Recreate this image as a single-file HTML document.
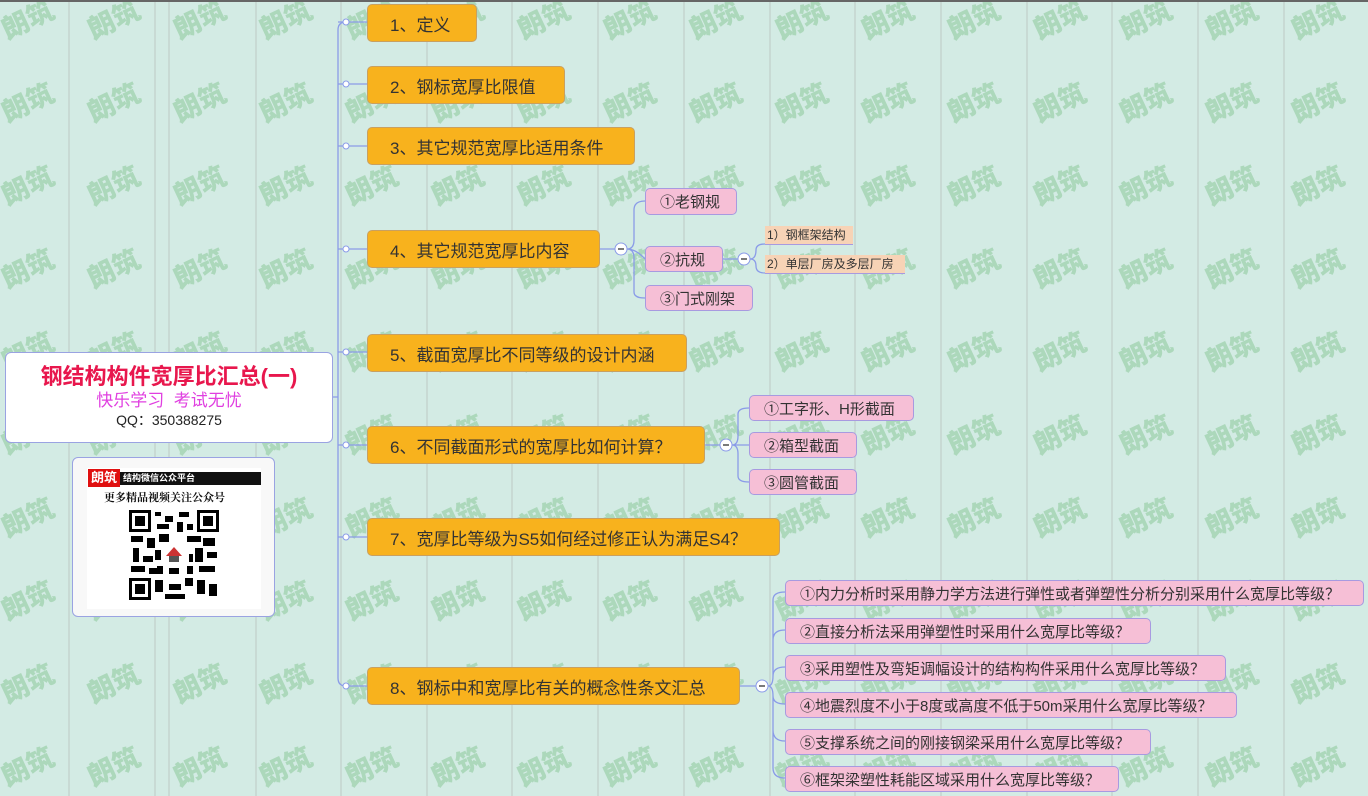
<!DOCTYPE html>
<html style="width:1368px;height:796px;overflow:hidden"><head><meta charset="utf-8"><style>
*{margin:0;padding:0;box-sizing:border-box}
body{width:1368px;height:796px;overflow:hidden;background:#d3ebe4;font-family:"Liberation Sans","Noto Sans CJK SC",sans-serif;position:relative}
.n{position:absolute;border-radius:5px;display:flex;align-items:center;white-space:nowrap}
.m{background:#f8b21d;border:1px solid #c9a060;font-size:17px;color:#333;padding-left:22px}
.p{background:#f6bfd6;border:1px solid #a89ae0;font-size:15px;color:#333;padding-left:14px}
.s{position:absolute;background:#f7d3b6;font-size:12px;color:#333;border-bottom:1px solid #a89ae0;padding-left:2px;white-space:nowrap;line-height:18px}
svg{position:absolute;left:0;top:0;display:block}
</style></head><body>
<svg width="1368" height="796" id="bg">
<g stroke="#bcc8c4" stroke-width="1">
<line x1="69" y1="0" x2="69" y2="796"/><line x1="155" y1="0" x2="155" y2="796"/><line x1="169" y1="0" x2="169" y2="796"/><line x1="256" y1="0" x2="256" y2="796"/><line x1="341" y1="0" x2="341" y2="796"/><line x1="427" y1="0" x2="427" y2="796"/><line x1="512" y1="0" x2="512" y2="796"/><line x1="598" y1="0" x2="598" y2="796"/><line x1="684" y1="0" x2="684" y2="796"/><line x1="770" y1="0" x2="770" y2="796"/><line x1="855" y1="0" x2="855" y2="796"/><line x1="941" y1="0" x2="941" y2="796"/><line x1="1027" y1="0" x2="1027" y2="796"/><line x1="1112" y1="0" x2="1112" y2="796"/><line x1="1198" y1="0" x2="1198" y2="796"/><line x1="1284" y1="0" x2="1284" y2="796"/>
</g>
<g id="wm" font-family="Noto Sans CJK SC" font-weight="900" font-size="27" fill="#acd8bb" text-anchor="middle"></g>
<rect width="1368" height="2" fill="#666"/>
<g stroke="#8a9be8" stroke-width="1.3" fill="none">
<path d="M332 397 H338 M338 30 Q338 22 346 22 M338 30 V678 Q338 686 346 686"/>
<path d="M338 84 H367 M338 146 H367 M338 249 H367 M338 352 H367 M338 445 H367 M338 537 H367 M338 22 H367 M346 686 H367"/>
<path d="M599 249 H615 M627 249 Q634 249 634 240 V210 Q634 201 645 201 M627 249 Q634 249 634 258 V292 Q634 298 645 298 M627 249 Q636 249 645 259"/>
<path d="M722 259 H738 M750 259 Q756 259 756 250 Q756 244 765 244 M750 259 Q756 259 756 266 Q756 273 765 273 M765 244 H853 M765 273 H905"/>
<path d="M704 445 H720 M732 445 Q738 445 738 436 V414 Q738 408 749 408 M732 445 H749 M732 445 Q738 445 738 454 V476 Q738 482 749 482"/>
<path d="M739 686 H756 M768 686 Q773 686 773 676 V600 Q773 592 785 592 M773 676 V640 Q773 630 785 630 M773 676 Q773 667 785 667 M768 686 Q773 686 773 696 Q773 704 785 704 M773 696 V730 Q773 741 785 741 M773 730 V768 Q773 778 785 778"/>
</g>
<g fill="#fff" stroke="#8a9be8" stroke-width="1">
<circle cx="346" cy="22" r="3"/><circle cx="346" cy="84" r="3"/><circle cx="346" cy="146" r="3"/><circle cx="346" cy="249" r="3"/><circle cx="346" cy="352" r="3"/><circle cx="346" cy="445" r="3"/><circle cx="346" cy="537" r="3"/><circle cx="346" cy="686" r="3"/>
<circle cx="621" cy="249" r="6"/><circle cx="744" cy="259" r="6"/><circle cx="726" cy="445" r="6"/><circle cx="762" cy="686" r="6"/>
</g>
<g stroke="#333" stroke-width="1.3"><line x1="618" y1="249" x2="624" y2="249"/><line x1="741" y1="259" x2="747" y2="259"/><line x1="723" y1="445" x2="729" y2="445"/><line x1="759" y1="686" x2="765" y2="686"/></g>
</svg>
<script>
(function(){var g=document.getElementById('wm'),ns='http://www.w3.org/2000/svg';
for(var r=0;r<10;r++)for(var c=0;c<16;c++){var x=28+86*c,y=20+83*r;var t=document.createElementNS(ns,'text');t.setAttribute('x',x);t.setAttribute('y',y+9);t.setAttribute('transform','rotate(-25 '+x+' '+y+')');t.textContent='朗筑';g.appendChild(t);}})();
</script>

<div class="n m" style="left:367px;top:4px;width:110px;height:38px">1、定义</div>
<div class="n m" style="left:367px;top:66px;width:198px;height:38px">2、钢标宽厚比限值</div>
<div class="n m" style="left:367px;top:127px;width:268px;height:38px">3、其它规范宽厚比适用条件</div>
<div class="n m" style="left:367px;top:230px;width:233px;height:38px">4、其它规范宽厚比内容</div>
<div class="n m" style="left:367px;top:334px;width:320px;height:38px">5、截面宽厚比不同等级的设计内涵</div>
<div class="n m" style="left:367px;top:426px;width:338px;height:38px">6、不同截面形式的宽厚比如何计算？</div>
<div class="n m" style="left:367px;top:518px;width:413px;height:38px">7、宽厚比等级为S5如何经过修正认为满足S4？</div>
<div class="n m" style="left:367px;top:667px;width:373px;height:38px">8、钢标中和宽厚比有关的概念性条文汇总</div>

<div class="n p" style="left:645px;top:188px;width:92px;height:27px">①老钢规</div>
<div class="n p" style="left:645px;top:246px;width:78px;height:26px">②抗规</div>
<div class="n p" style="left:645px;top:285px;width:108px;height:26px">③门式刚架</div>
<div class="s" style="left:765px;top:226px;width:88px">1）钢框架结构</div>
<div class="s" style="left:765px;top:255px;width:140px">2）单层厂房及多层厂房</div>

<div class="n p" style="left:749px;top:395px;width:165px;height:26px">①工字形、H形截面</div>
<div class="n p" style="left:749px;top:432px;width:108px;height:26px">②箱型截面</div>
<div class="n p" style="left:749px;top:469px;width:108px;height:26px">③圆管截面</div>

<div class="n p" style="left:785px;top:580px;width:579px;height:26px">①内力分析时采用静力学方法进行弹性或者弹塑性分析分别采用什么宽厚比等级？</div>
<div class="n p" style="left:785px;top:618px;width:366px;height:26px">②直接分析法采用弹塑性时采用什么宽厚比等级？</div>
<div class="n p" style="left:785px;top:655px;width:441px;height:26px">③采用塑性及弯矩调幅设计的结构构件采用什么宽厚比等级？</div>
<div class="n p" style="left:785px;top:692px;width:452px;height:26px">④地震烈度不小于8度或高度不低于50m采用什么宽厚比等级？</div>
<div class="n p" style="left:785px;top:729px;width:366px;height:26px">⑤支撑系统之间的刚接钢梁采用什么宽厚比等级？</div>
<div class="n p" style="left:785px;top:766px;width:334px;height:26px">⑥框架梁塑性耗能区域采用什么宽厚比等级？</div>

<div style="position:absolute;left:5px;top:352px;width:328px;height:91px;background:#fff;border:1px solid #9aa3e2;border-radius:6px;text-align:center">
<div style="color:#e8174d;font-weight:bold;font-size:22px;margin-top:11px;line-height:26px">钢结构构件宽厚比汇总(一)</div>
<div style="color:#e040e0;font-size:17px;line-height:21px">快乐学习&nbsp; 考试无忧</div>
<div style="color:#222;font-size:14px;line-height:18px">QQ：350388275</div>
</div>
<div style="position:absolute;left:72px;top:457px;width:203px;height:160px;background:#f8f8f8;border:1px solid #9aa3e2;border-radius:6px">
<div style="position:absolute;left:14px;top:10px;width:174px;height:141px;background:#fff">
<div style="position:absolute;left:1px;top:4px;width:173px;height:13px;background:#111"></div>
<div style="position:absolute;left:1px;top:1px;width:32px;height:18px;background:#e01010;color:#fff;font-weight:bold;font-size:13px;line-height:18px;text-align:center">朗筑</div>
<div style="position:absolute;left:36px;top:4px;color:#fff;font-size:9px;line-height:13px;font-weight:bold">结构微信公众平台</div>
<div style="position:absolute;left:17px;top:21px;color:#111;font-size:11px;font-weight:bold;font-family:'Noto Serif CJK SC',serif">更多精品视频关注公众号</div>
<svg width="90" height="90" style="left:42px;top:42px;position:absolute">
<rect width="90" height="90" fill="#fff"/>
<g fill="#000"><rect x="0" y="0" width="22" height="22"/><rect x="68" y="0" width="22" height="22"/><rect x="0" y="68" width="22" height="22"/></g>
<g fill="#fff"><rect x="3" y="3" width="16" height="16"/><rect x="71" y="3" width="16" height="16"/><rect x="3" y="71" width="16" height="16"/></g>
<g fill="#000"><rect x="6" y="6" width="10" height="10"/><rect x="74" y="6" width="10" height="10"/><rect x="6" y="74" width="10" height="10"/>
<rect x="26" y="2" width="6" height="4"/><rect x="36" y="6" width="8" height="6"/><rect x="50" y="2" width="10" height="5"/><rect x="28" y="14" width="12" height="5"/><rect x="48" y="12" width="6" height="10"/><rect x="58" y="14" width="6" height="6"/>
<rect x="2" y="26" width="12" height="6"/><rect x="18" y="28" width="8" height="10"/><rect x="4" y="38" width="6" height="14"/><rect x="14" y="46" width="10" height="6"/><rect x="2" y="56" width="14" height="6"/><rect x="20" y="58" width="8" height="6"/>
<rect x="30" y="24" width="10" height="8"/><rect x="58" y="26" width="14" height="6"/><rect x="74" y="28" width="12" height="8"/><rect x="66" y="38" width="8" height="14"/><rect x="78" y="42" width="10" height="6"/><rect x="70" y="56" width="16" height="6"/>
<rect x="26" y="70" width="8" height="12"/><rect x="40" y="74" width="12" height="6"/><rect x="56" y="68" width="8" height="8"/><rect x="68" y="70" width="8" height="14"/><rect x="80" y="74" width="8" height="12"/><rect x="36" y="84" width="20" height="5"/>
<rect x="28" y="56" width="6" height="8"/><rect x="58" y="56" width="6" height="8"/><rect x="26" y="40" width="6" height="10"/><rect x="40" y="58" width="10" height="6"/><rect x="60" y="44" width="4" height="8"/></g>
<rect x="34" y="34" width="22" height="20" fill="#fff"/><path d="M37 46 L45 37 L53 46 Z" fill="#c33"/><rect x="40" y="46" width="10" height="6" fill="#555"/>
</svg>
</div></div>
</body></html>
